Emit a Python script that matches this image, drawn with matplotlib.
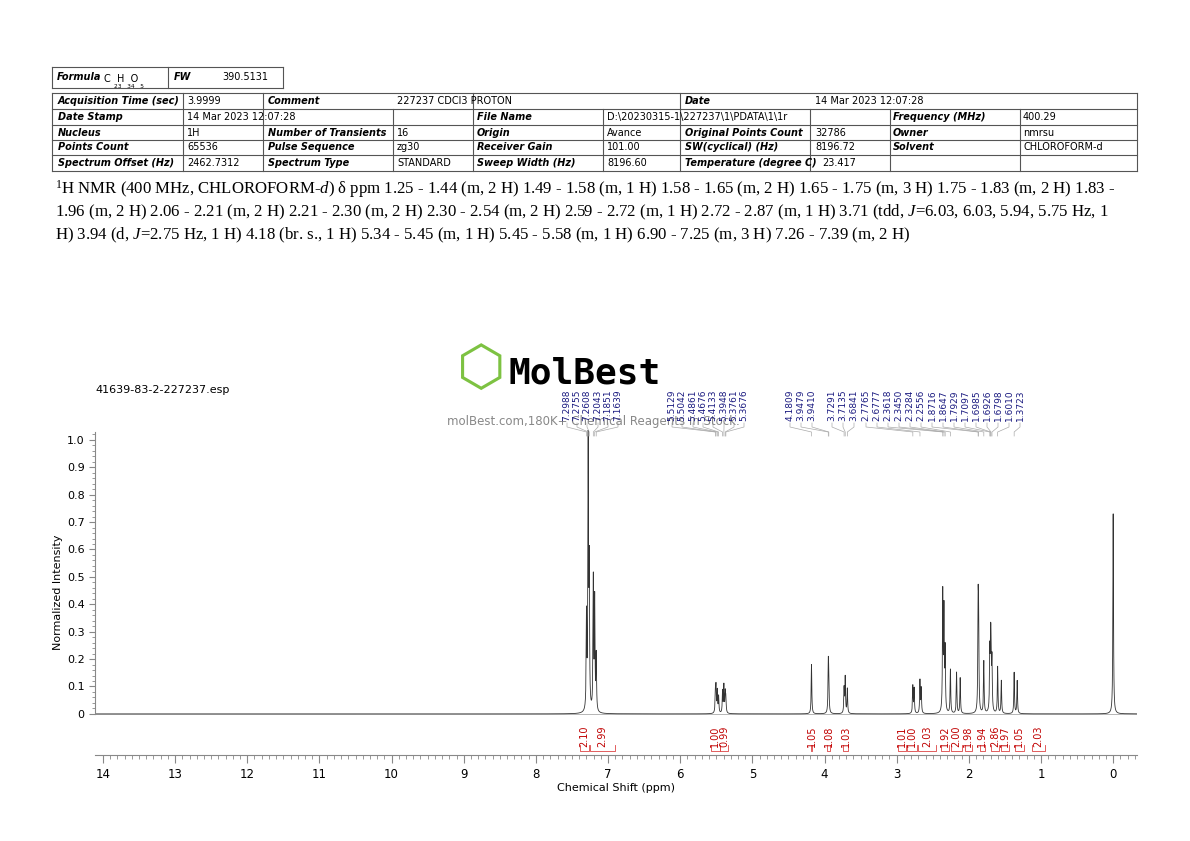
import numpy as np
import matplotlib
matplotlib.use("Agg")
import matplotlib.pyplot as plt

W, H = 1190, 841
peak_ppm = [7.2988, 7.2755, 7.2608, 7.2043, 7.1851, 7.1639,
            5.5129, 5.5042, 5.4861, 5.4676, 5.4133, 5.3948, 5.3761, 5.3676,
            4.1809, 3.9479, 3.9410, 3.7291, 3.7135, 3.6841,
            2.7765, 2.7580, 2.6777, 2.6600, 2.3618, 2.3450, 2.3284, 2.2556, 2.1700, 2.1200,
            1.8716, 1.8647, 1.7929, 1.7097, 1.6985, 1.6926, 1.6798, 1.6010, 1.5500, 1.3723, 1.3300,
            0.0000]
peak_height = [0.34, 0.98, 0.50, 0.48, 0.40, 0.20,
               0.07, 0.09, 0.08, 0.06, 0.08, 0.10, 0.07, 0.05,
               0.18, 0.17, 0.11, 0.09, 0.13, 0.09,
               0.10, 0.09, 0.12, 0.09, 0.43, 0.36, 0.22, 0.16, 0.15, 0.13,
               0.36, 0.30, 0.19, 0.21, 0.20, 0.19, 0.18, 0.17, 0.12, 0.15, 0.12,
               0.73]
peak_labels = ["7.2988", "7.2755", "7.2608", "7.2043", "7.1851", "7.1639",
               "5.5129", "5.5042", "5.4861", "5.4676", "5.4133", "5.3948", "5.3761", "5.3676",
               "4.1809", "3.9479", "3.9410", "3.7291", "3.7135", "3.6841",
               "2.7765", "2.6777", "2.3618", "2.3450", "2.3284", "2.2556",
               "1.8716", "1.8647", "1.7929", "1.7097", "1.6985", "1.6926", "1.6798", "1.6010", "1.3723"]
label_px = [567, 577, 587, 598, 608, 618,
            672, 682, 693, 703, 713, 724, 734, 744,
            790, 801, 812, 832, 843, 854,
            866, 877, 888, 899, 910, 921, 932, 943, 954, 965, 976, 987, 998, 1009, 1020]
integ_start = [7.39, 7.25, 5.58, 5.45, 4.19, 3.96, 3.74, 2.98, 2.86, 2.70, 2.38, 2.25, 2.06, 1.85, 1.70, 1.55, 1.36, 1.12]
integ_end = [7.26, 6.90, 5.45, 5.34, 4.17, 3.92, 3.67, 2.87, 2.72, 2.45, 2.28, 2.10, 1.96, 1.78, 1.58, 1.45, 1.24, 0.95]
integ_vals = ["2.10", "2.99", "1.00", "0.99", "1.05", "1.08", "1.03", "1.01", "1.00", "2.03", "1.92",
              "2.00", "1.98", "1.94", "2.86", "1.97", "1.05", "2.03"]

fig = plt.figure(figsize=(W/100, H/100), dpi=100)
def fx(p): return p / W
def fy(p): return 1 - p / H

def hline(y, x0, x1, lw=0.8):
    fig.add_artist(plt.Line2D([fx(x0), fx(x1)], [fy(y), fy(y)], color='#555', lw=lw))
def vline(x, y0, y1, lw=0.8):
    fig.add_artist(plt.Line2D([fx(x), fx(x)], [fy(y0), fy(y1)], color='#555', lw=lw))
hline(67, 52, 283); hline(88, 52, 283); vline(52, 67, 88); vline(283, 67, 88); vline(168, 67, 88)
fig.text(fx(57), fy(77), "Formula", fontsize=7, style='italic', weight='bold', va='center')
fig.text(fx(104), fy(79), "C  H  O", fontsize=7, va='center')
fig.text(fx(114), fy(86), "23   34   5", fontsize=4.2, va='center')
fig.text(fx(174), fy(77), "FW", fontsize=7, style='italic', weight='bold', va='center')
fig.text(fx(222), fy(77), "390.5131", fontsize=7, va='center')

rows_y = [93, 109, 125, 140, 155, 171]
for y in rows_y:
    hline(y, 52, 1137)
for x in [52, 1137]:
    vline(x, 93, 171)
rows = [
    [(58, "Acquisition Time (sec)", 1), (187, "3.9999", 0), (268, "Comment", 1), (397, "227237 CDCl3 PROTON", 0),
     (685, "Date", 1), (815, "14 Mar 2023 12:07:28", 0)],
    [(58, "Date Stamp", 1), (187, "14 Mar 2023 12:07:28", 0), (477, "File Name", 1),
     (607, "D:\\20230315-1\\227237\\1\\PDATA\\1\\1r", 0), (893, "Frequency (MHz)", 1), (1023, "400.29", 0)],
    [(58, "Nucleus", 1), (187, "1H", 0), (268, "Number of Transients", 1), (397, "16", 0), (477, "Origin", 1),
     (607, "Avance", 0), (685, "Original Points Count", 1), (815, "32786", 0), (893, "Owner", 1), (1023, "nmrsu", 0)],
    [(58, "Points Count", 1), (187, "65536", 0), (268, "Pulse Sequence", 1), (397, "zg30", 0), (477, "Receiver Gain", 1),
     (607, "101.00", 0), (685, "SW(cyclical) (Hz)", 1), (815, "8196.72", 0), (893, "Solvent", 1), (1023, "CHLOROFORM-d", 0)],
    [(58, "Spectrum Offset (Hz)", 1), (187, "2462.7312", 0), (268, "Spectrum Type", 1), (397, "STANDARD", 0),
     (477, "Sweep Width (Hz)", 1), (607, "8196.60", 0), (685, "Temperature (degree C)", 1), (822, "23.417", 0)],
]
for i, row in enumerate(rows):
    yc = (rows_y[i] + rows_y[i+1]) / 2
    for x, t, b in row:
        fig.text(fx(x), fy(yc), t, fontsize=7, va='center',
                 weight='bold' if b else 'normal', style='italic' if b else 'normal')
for x in [183, 263, 473, 680]:
    vline(x, 93, 171)
for x in [393, 603, 810, 890, 1020]:
    vline(x, 109, 171)

desc = ["$^{1}$H NMR (400 MHz, CHLOROFORM-$d$) δ ppm 1.25 - 1.44 (m, 2 H) 1.49 - 1.58 (m, 1 H) 1.58 - 1.65 (m, 2 H) 1.65 - 1.75 (m, 3 H) 1.75 - 1.83 (m, 2 H) 1.83 -",
        "1.96 (m, 2 H) 2.06 - 2.21 (m, 2 H) 2.21 - 2.30 (m, 2 H) 2.30 - 2.54 (m, 2 H) 2.59 - 2.72 (m, 1 H) 2.72 - 2.87 (m, 1 H) 3.71 (tdd, $J$=6.03, 6.03, 5.94, 5.75 Hz, 1",
        "H) 3.94 (d, $J$=2.75 Hz, 1 H) 4.18 (br. s., 1 H) 5.34 - 5.45 (m, 1 H) 5.45 - 5.58 (m, 1 H) 6.90 - 7.25 (m, 3 H) 7.26 - 7.39 (m, 2 H)"]
plt.rcParams['mathtext.fontset'] = 'custom'
plt.rcParams['mathtext.rm'] = 'Liberation Serif'
plt.rcParams['mathtext.it'] = 'Liberation Serif:italic'
for i, t in enumerate(desc):
    fig.text(fx(55), fy(189 + 23*i), t, fontsize=12.1, family='Liberation Serif', va='center')

# ---- watermark ----
fig.text(fx(508), fy(374), "MolBest", fontsize=26, color='black', va='center', ha='left', family='DejaVu Sans Mono', weight='bold')
fig.text(fx(481), fy(370), "⬡", fontsize=40, color='#7dc242', va='center', ha='center')
fig.text(fx(593), fy(421), "molBest.com,180K+ Chemical Reagents In Stock.", fontsize=8.5, color='#888', ha='center', va='center')
fig.text(fx(95), fy(390), "41639-83-2-227237.esp", fontsize=8, va='center')

# ---- spectrum axes ----
ax = fig.add_axes([fx(95), 1 - 755/H, 1042/W, (755-430)/H])
x0, x1 = 14.11, -0.33
ax.set_xlim(x0, x1)
ax.set_ylim(-0.15, 1.036)
x = np.linspace(-0.33, 14.11, 40000)
w = 0.005
y = np.zeros_like(x)
for p, h in zip(peak_ppm, peak_height):
    y += h * w**2 / ((x - p)**2 + w**2)
ax.plot(x, y, color='#333', lw=0.6)
ax.axhline(0, color='#999', lw=0.5, zorder=0)
for s in ['top', 'right']:
    ax.spines[s].set_visible(False)
ax.spines['left'].set_bounds(0, 1.03)
ax.spines['left'].set_color('#888'); ax.spines['bottom'].set_color('#888')
ax.set_yticks(np.arange(0, 1.01, 0.1))
ax.set_yticklabels(["0"] + [f"{v:.1f}" for v in np.arange(0.1, 1.01, 0.1)], fontsize=8)
ax.set_yticks(np.arange(0, 1.03, 0.02), minor=True)
ax.set_xticks(np.arange(0, 15, 1))
ax.set_xticklabels([str(i) for i in range(15)], fontsize=8.5)
ax.set_xticks(np.arange(-0.3, 14.1, 0.1), minor=True)
ax.tick_params(axis='x', which='major', length=6, color='#888')
ax.tick_params(axis='x', which='minor', length=3, color='#888')
ax.tick_params(axis='y', which='major', length=4, color='#888')
ax.tick_params(axis='y', which='minor', length=2, color='#888')
ax.set_xlabel("Chemical Shift (ppm)", fontsize=8, labelpad=1)
ax.set_ylabel("Normalized Intensity", fontsize=8, labelpad=3)

def ppm2px(p): return 95 + (x0 - p) / (x0 - x1) * 1042
for s, e, v in zip(integ_start, integ_end, integ_vals):
    xm = ppm2px((s + e) / 2)
    fig.text(fx(xm), fy(736), v, rotation=90, color='#c00000', fontsize=7, ha='center', va='center')
    a, b = ppm2px(s), ppm2px(e)
    fig.add_artist(plt.Line2D([fx(a), fx(a), fx(b), fx(b)], [fy(745), fy(751), fy(751), fy(745)], color='#d44', lw=0.6))

for lbl, lp in zip(peak_labels, label_px):
    fig.text(fx(lp), fy(421), lbl, rotation=90, color='#1a1a80', fontsize=6.5, ha='center', va='bottom')
    pp = ppm2px(float(lbl))
    fig.add_artist(plt.Line2D([fx(lp), fx(lp), fx(pp), fx(pp)], [fy(423), fy(427), fy(432), fy(436)], color='#aaa', lw=0.5))

fig.savefig("out.png", dpi=100)
